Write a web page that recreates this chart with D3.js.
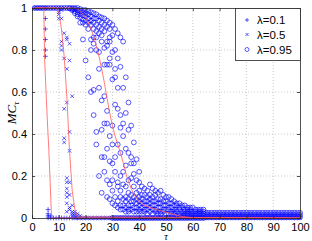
<!DOCTYPE html>
<html>
<head>
<meta charset="utf-8">
<script src="https://cdn.jsdelivr.net/npm/d3@7"></script>
<style>
  html, body { margin: 0; padding: 0; background: #fff; }
  svg { display: block; }
  text { font-family: "Liberation Sans", Arial, sans-serif; }
</style>
</head>
<body>
<svg id="chart" width="312" height="241"></svg>
<script>
// tau = 1..100
var tau = [1,2,3,4,5,6,7,8,9,10,11,12,13,14,15,16,17,18,19,20,
  21,22,23,24,25,26,27,28,29,30,31,32,33,34,35,36,37,38,39,40,
  41,42,43,44,45,46,47,48,49,50,51,52,53,54,55,56,57,58,59,60,
  61,62,63,64,65,66,67,68,69,70,71,72,73,74,75,76,77,78,79,80,
  81,82,83,84,85,86,87,88,89,90,91,92,93,94,95,96,97,98,99,100];

// lambda = 0.1 ('+') : MC per tau, several runs
var plusVals = [
  [1],[1],[1],[1],[1,.95,.9,.85,.8,.77],[.04,.02,.01,0],[.01,0],
  [0],[0],[0],[0],[0],[0],[0],[0],[0],[0],
  [0],[0],[0],[0],[0],[0],[0],[0],[0],[0],
  [0],[0],[0],[0],[0],[0],[0],[0],[0],[0],
  [0],[0],[0],[0],[0],[0],[0],[0],[0],[0],
  [0],[0],[0],[0],[0],[0],[0],[0],[0],[0],
  [0],[0],[0],[0],[0],[0],[0],[0],[0],[0],
  [0],[0],[0],[0],[0],[0],[0],[0],[0],[0],
  [0],[0],[0],[0],[0],[0],[0],[0],[0],[0],
  [0],[0],[0],[0],[0],[0],[0],[0],[0],[0],
  [0],[0],[0]
];

// lambda = 0.5 ('x')
var crossVals = [
  [1],[1],[1],[1],[1],[1],[1],[1],[1],
  [1,.98,.97,.95],
  [1,.99,.95,.84,.82,.8],
  [1,.88,.76,.52,.38,.36],
  [.86,.85,.71,.55,.19,.17,.14,.12,.1,.07,.03],
  [.83,.75,.41,.32,.17,.11,.05,.04],
  [.58,.06,.03,.02,.01],
  [.03,.02,.01,0],
  [.02,.01,0],
  [.01,0],
  [0],[0],
  [0],[0],[0],[0],[0],[0],[0],[0],[0],[0],
  [0],[0],[0],[0],[0],[0],[0],[0],[0],[0],
  [0],[0],[0],[0],[0],[0],[0],[0],[0],[0],
  [0],[0],[0],[0],[0],[0],[0],[0],[0],[0],
  [0],[0],[0],[0],[0],[0],[0],[0],[0],[0],
  [0],[0],[0],[0],[0],[0],[0],[0],[0],[0],
  [0],[0],[0],[0],[0],[0],[0],[0],[0],[0],
  [0],[0],[0],[0],[0],[0],[0],[0],[0],[0]
];

// lambda = 0.95 ('o')
var circVals = [
  [1],[1],[1],[1],[1],[1],[1],[1],[1],[1],[1],[1],[1],
  [1,.998],
  [1,.995,.99],
  [1,.995,.985,.975],
  [1,.99,.98,.97,.96],
  [.995,.985,.97,.955,.93],
  [.99,.98,.965,.945,.93,.85],
  [.99,.975,.96,.94,.92,.75],
  [.985,.97,.95,.93,.9,.67],
  [.98,.96,.94,.92,.85,.8,.6],
  [.975,.95,.93,.9,.86,.83,.61,.49],
  [.97,.95,.92,.89,.86,.8,.41,.35],
  [.96,.94,.91,.88,.79,.71,.62,.2],
  [.955,.93,.9,.87,.84,.56,.42,.29,.12],
  [.95,.92,.89,.81,.73,.58,.45,.29,.22],
  [.94,.91,.84,.82,.73,.51,.45,.33,.18,.1],
  [.93,.9,.86,.84,.76,.73,.39,.27,.16,.09],
  [.92,.87,.79,.66,.44,.35,.26,.18,.13,.07,0],
  [.9,.8,.71,.67,.54,.29,.22,.1,.06,0],
  [.88,.76,.62,.52,.35,.17,.15,.08,.05,0],
  [.86,.72,.49,.43,.31,.2,.13,.1,.06,.04,0],
  [.84,.62,.45,.39,.22,.16,.09,.06,.04,0],
  [.67,.5,.33,.25,.15,.1,.08,.05,.03,0],
  [.55,.42,.31,.18,.12,.09,.06,.04,.03,0],
  [.44,.29,.26,.19,.11,.08,.06,.04,0],
  [.36,.26,.21,.15,.1,.08,.05,.03,0],
  [.28,.18,.12,.09,.07,.05,.03,0],
  [.22,.17,.13,.1,.08,.06,.04,.03,0],
  [.15,.11,.09,.07,.05,.03,0],
  [.14,.11,.08,.06,.04,.03,0],
  [.13,.1,.08,.06,.04,.02,0],
  [.16,.11,.09,.07,.05,.03,0],
  [.14,.1,.08,.06,.04,.02,0],
  [.13,.11,.08,.06,.04,.03,0],
  [.12,.09,.07,.05,.03,.02,0],
  [.13,.09,.07,.05,.03,.02,0],
  [.11,.08,.06,.04,.03,0],
  [.1,.08,.06,.04,.02,0],
  [.1,.07,.05,.04,.02,0],
  [.09,.07,.05,.03,.02,0],
  [.08,.06,.04,.03,.02,0],
  [.07,.06,.04,.03,.01,0],
  [.07,.05,.04,.02,.01,0],
  [.06,.05,.03,.02,.01,0],
  [.06,.04,.03,.02,.01,0],
  [.05,.04,.03,.02,.01,0],
  [.05,.04,.03,.02,.01,0],
  [.05,.03,.02,.01,0],
  [.04,.03,.02,.01,0],
  [.04,.03,.02,.01,0],
  [.04,.03,.02,.01,0],
  [.04,.03,.02,.01,0],
  [.025,.015,.005],[.025,.015,.005],[.025,.015,.005],[.025,.015,.005],
  [.025,.015,.005],[.025,.015,.005],[.025,.015,.005],[.025,.015,.005],
  [.025,.015,.005],[.025,.015,.005],[.025,.015,.005],[.025,.015,.005],
  [.025,.015,.005],[.025,.015,.005],[.025,.015,.005],[.025,.015,.005],
  [.025,.015,.005],[.025,.015,.005],[.025,.015,.005],[.025,.015,.005],
  [.025,.015,.005],[.025,.015,.005],[.025,.015,.005],[.025,.015,.005],
  [.025,.015,.005],[.025,.015,.005],[.025,.015,.005],[.025,.015,.005],
  [.025,.015,.005],[.025,.015,.005],[.025,.015,.005],[.025,.015,.005],
  [.025,.015,.005],[.025,.015,.005],[.025,.015,.005],[.025,.015,.005]
];

// red curves (vertices)
var line01Tau = [1, 4.4, 4.7, 5.7, 6.3, 7.3, 100];
var line01Val = [1, 1, .76, .47, .32, 0, 0];
var line05Tau = [1, 9, 10, 11, 12, 13, 14, 15, 16, 17, 100];
var line05Val = [1, 1, .98, .9, .77, .58, .32, .13, .04, .005, 0];
var line95Tau = [1, 16, 17, 18, 19, 20, 21, 22, 23, 24, 25, 26, 27, 28, 29, 30,
  31, 32, 33, 34, 35, 36, 37, 38, 39, 40, 41, 42, 44, 46, 48, 50, 52, 54, 56, 58, 60, 100];
var line95Val = [1, 1, .995, .985, .97, .955, .93, .9, .865, .82, .77, .71, .645, .57, .5, .44,
  .39, .35, .31, .265, .215, .175, .14, .115, .095, .08, .068, .06, .05, .042, .035, .028, .02, .013, .007, .004, .002, 0];

var legendLabels = ["\u03bb=0.1", "\u03bb=0.5", "\u03bb=0.95"];
var xTicks = [0,10,20,30,40,50,60,70,80,90,100];
var yTicks = [0,0.2,0.4,0.6,0.8,1];

var svg = d3.select("#chart");
var padL = 32, padR = 300, padT = 8, padB = 218;

var x = d3.scaleLinear().domain([0, 100]).range([padL, padR]);
var y = d3.scaleLinear().domain([0, 1]).range([padB, padT]);

// grid
var grid = svg.append("g").attr("stroke", "#b4b4b4").attr("stroke-width", 0.7)
  .attr("stroke-dasharray", "1,2");
grid.selectAll(".gx").data(xTicks.slice(1, -1)).enter().append("line")
  .attr("x1", function(d){ return x(d); }).attr("x2", function(d){ return x(d); })
  .attr("y1", padT).attr("y2", padB);
grid.selectAll(".gy").data(yTicks.slice(1, -1)).enter().append("line")
  .attr("x1", padL).attr("x2", padR)
  .attr("y1", function(d){ return y(d); }).attr("y2", function(d){ return y(d); });

// flatten scatter data
function flat(vals){
  var out = [];
  vals.forEach(function(v, i){
    v.forEach(function(val){ out.push({t: tau[i], v: val}); });
  });
  return out;
}

var marks = svg.append("g").attr("fill", "none").attr("stroke", "#0000ff").attr("stroke-width", 0.65);

marks.selectAll(".c").data(flat(circVals)).enter().append("circle")
  .attr("cx", function(d){ return x(d.t); })
  .attr("cy", function(d){ return y(d.v); })
  .attr("r", 2.4);

marks.selectAll(".x").data(flat(crossVals)).enter().append("path")
  .attr("d", function(d){
    var cx = x(d.t), cy = y(d.v), s = 1.8;
    return "M" + (cx - s) + "," + (cy - s) + "L" + (cx + s) + "," + (cy + s) +
           "M" + (cx - s) + "," + (cy + s) + "L" + (cx + s) + "," + (cy - s);
  });

marks.selectAll(".p").data(flat(plusVals)).enter().append("path")
  .attr("d", function(d){
    var cx = x(d.t), cy = y(d.v), s = 2.4;
    return "M" + (cx - s) + "," + cy + "L" + (cx + s) + "," + cy +
           "M" + cx + "," + (cy - s) + "L" + cx + "," + (cy + s);
  });

// red curves
var line = d3.line().x(function(d){ return x(d[0]); }).y(function(d){ return y(d[1]); });
[[line01Tau, line01Val], [line05Tau, line05Val], [line95Tau, line95Val]].forEach(function(s){
  svg.append("path")
    .datum(d3.zip(s[0], s[1]))
    .attr("d", line)
    .attr("fill", "none")
    .attr("stroke", "#ff5a5a")
    .attr("stroke-width", 0.8);
});

// axes box
function styleAxis(g){
  g.selectAll("path, line").attr("stroke", "#262626").attr("stroke-width", 0.8);
  g.selectAll("text").attr("fill", "#000").style("font-size", "11px")
    .style("font-family", "'Liberation Sans', Arial, sans-serif");
}
svg.append("g").attr("transform", "translate(0," + padB + ")")
  .call(d3.axisBottom(x).tickValues(xTicks).tickSizeInner(-3).tickSizeOuter(0).tickPadding(5))
  .call(styleAxis);
svg.append("g").attr("transform", "translate(" + padL + ",0)")
  .call(d3.axisLeft(y).tickValues(yTicks).tickSizeInner(-3).tickSizeOuter(0).tickPadding(5)
    .tickFormat(function(d){ return String(+d.toFixed(1)); }))
  .call(styleAxis);
svg.append("g").attr("transform", "translate(0," + padT + ")")
  .call(d3.axisTop(x).tickValues(xTicks).tickSizeInner(-3).tickSizeOuter(0).tickFormat(""))
  .call(styleAxis);
svg.append("g").attr("transform", "translate(" + padR + ",0)")
  .call(d3.axisRight(y).tickValues(yTicks).tickSizeInner(-3).tickSizeOuter(0).tickFormat(""))
  .call(styleAxis);

// axis labels
svg.append("text")
  .attr("x", (padL + padR) / 2).attr("y", 240)
  .attr("text-anchor", "middle")
  .style("font-family", "'Liberation Serif', 'DejaVu Serif', serif")
  .style("font-style", "italic").style("font-size", "10px")
  .text("\u03c4");

var yl = svg.append("text")
  .attr("transform", "translate(16," + ((padT + padB) / 2) + ") rotate(-90)")
  .attr("text-anchor", "middle")
  .style("font-family", "'Liberation Serif', 'DejaVu Serif', serif")
  .style("font-style", "italic").style("font-size", "13px");
yl.append("tspan").text("MC");
yl.append("tspan").attr("dy", 2.5).style("font-size", "9px").text("\u03c4");

// legend
var lg = svg.append("g");
lg.append("rect").attr("x", 235.5).attr("y", 8.5).attr("width", 65).attr("height", 52)
  .attr("fill", "#fff").attr("stroke", "#262626").attr("stroke-width", 0.8);
var ly = [20, 34.5, 49.5];
legendLabels.forEach(function(lab, i){
  var cx = 247, cy = ly[i];
  var m = lg.append("g").attr("fill", "none").attr("stroke", "#0000ff").attr("stroke-width", 0.65);
  if (i === 0) m.append("path").attr("d", "M" + (cx - 2) + "," + cy + "L" + (cx + 2) + "," + cy + "M" + cx + "," + (cy - 2) + "L" + cx + "," + (cy + 2));
  if (i === 1) m.append("path").attr("d", "M" + (cx - 1.5) + "," + (cy - 1.5) + "L" + (cx + 1.5) + "," + (cy + 1.5) + "M" + (cx - 1.5) + "," + (cy + 1.5) + "L" + (cx + 1.5) + "," + (cy - 1.5));
  if (i === 2) m.append("circle").attr("cx", cx).attr("cy", cy).attr("r", 2);
  lg.append("text").attr("x", 257).attr("y", cy).attr("dy", "0.36em")
    .style("font-size", "11.5px").attr("fill", "#000").text(lab);
});
</script>
</body>
</html>
